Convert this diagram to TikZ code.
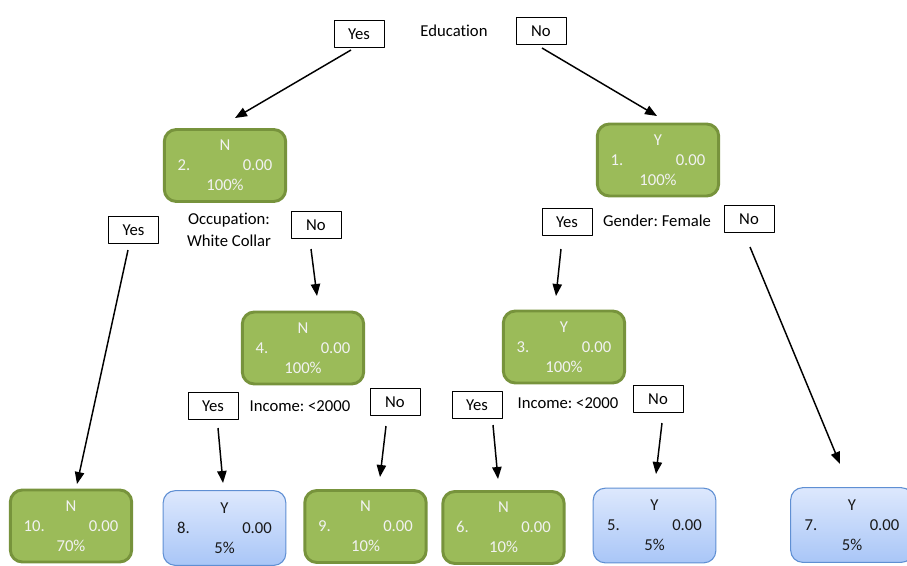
\documentclass[tikz,border=0pt]{standalone}
\usepackage{fontspec}
\setmainfont{Carlito}[Ligatures=NoCommon]
\frenchspacing
\usetikzlibrary{arrows.meta}
\definecolor{leafgreen}{HTML}{9BBB59}
\definecolor{leafedge}{HTML}{77933C}
\definecolor{bluetop}{HTML}{DDE8FD}
\definecolor{bluebot}{HTML}{A9C6F7}
\definecolor{blueedge}{HTML}{5F8FD3}
\newcommand{\inside}[4]{#1\\\makebox[71pt]{#2\hfill#3}\\#4}
\tikzset{
  gnode/.style={draw=leafedge,line width=2.2pt,fill=leafgreen,rounded corners=9pt,
    minimum width=91pt,minimum height=54pt,align=center,text=white!95!black,
    font=\fontsize{12.5}{15}\selectfont},
  bnode/.style={draw=blueedge,line width=0.8pt,top color=bluetop,bottom color=bluebot,
    rounded corners=9pt,minimum width=92pt,minimum height=56pt,align=center,
    text=black!90,font=\fontsize{12.5}{15}\selectfont},
  ans/.style={draw,line width=0.7pt,minimum width=37.5pt,minimum height=20.5pt,
    inner sep=0pt,text depth=0pt,yshift=-0.5pt},
  split/.style={align=center,font=\fontsize{12.5}{16.5}\selectfont}
}
\begin{document}
\begin{tikzpicture}[x=0.75pt,y=-0.75pt,>={Triangle[length=9pt,width=7pt]},line join=round,font=\fontsize{12.5}{14}\selectfont]
\useasboundingbox (0,0) rectangle (907,565);
% top split
\node (edu) at (454,31) {Education};
\node[ans] (yT) at (359,33) {Yes};
\node[ans] (nT) at (541,30) {No};
% inner nodes
\node[gnode] (n2) at (225,165.5) {\inside{N}{2.}{0.00}{100\%}};
\node[gnode] (n1) at (658,160) {\inside{Y}{1.}{0.00}{100\%}};
\node[gnode] (n4) at (303,348) {\inside{N}{4.}{0.00}{100\%}};
\node[gnode] (n3) at (564,347) {\inside{Y}{3.}{0.00}{100\%}};
% splits
\node[split] (occ) at (229,230) {Occupation:\\White Collar};
\node[ans] (y2) at (133.5,229.5) {Yes};
\node[ans] (no2) at (316,224.5) {No};
\node[split] (gen) at (657,221) {Gender: Female};
\node[ans] (y1) at (567,221) {Yes};
\node[ans] (no1) at (749,218.5) {No};
\node[split] (inc4) at (300,406) {Income: <2000};
\node[ans] (y4) at (213,405.5) {Yes};
\node[ans] (no4) at (395,401.5) {No};
\node[split] (inc3) at (568,403) {Income: <2000};
\node[ans] (y3) at (477,404.5) {Yes};
\node[ans] (no3) at (658,398) {No};
% leaves
\node[gnode] (n10) at (71,526) {\inside{N}{10.}{0.00}{70\%}};
\node[bnode] (n8) at (224.5,528) {\inside{Y}{8.}{0.00}{5\%}};
\node[gnode] (n9) at (365.5,526.5) {\inside{N}{9.}{0.00}{10\%}};
\node[gnode] (n6) at (503.5,527.5) {\inside{N}{6.}{0.00}{10\%}};
\node[bnode] (n5) at (654.5,525.5) {\inside{Y}{5.}{0.00}{5\%}};
\node[bnode] (n7) at (852,525) {\inside{Y}{7.}{0.00}{5\%}};
% arrows
\foreach \k/\sx/\sy/\tx/\ty in {1/351/50/235/118,2/542/48/657/116,3/128/250/77/484,
  4/311/249/317/296,5/218/428/223/483,6/386/426/380/477,7/561/249/556/296,
  8/750/247/840/464,9/493/425/498/479,10/662/423/656/474}
{\path (\sx,\sy) coordinate (s\k) (\tx,\ty) coordinate (t\k);
 \draw[->,line width=1.1pt] (s\k)--(t\k);
}
\end{tikzpicture}
\end{document}
